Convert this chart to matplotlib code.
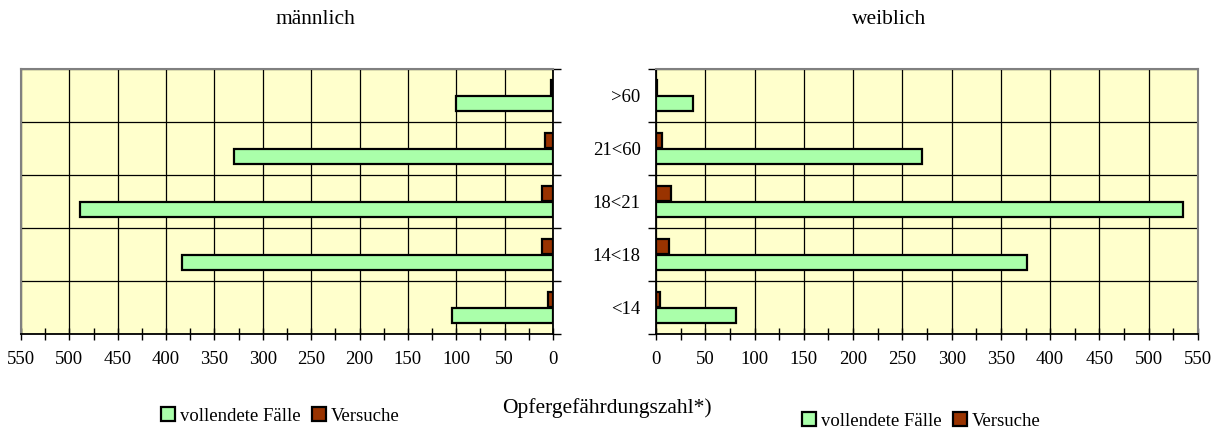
import matplotlib
matplotlib.use("Agg")
import matplotlib.pyplot as plt
from matplotlib.patches import Patch
from matplotlib.ticker import MultipleLocator, FixedLocator, NullFormatter, FixedFormatter

plt.rcParams['font.family'] = ['Liberation Serif', 'DejaVu Serif']

categories = ["<14", "14<18", "18<21", "21<60", ">60"]
male_vollendet = [104, 384, 489, 330, 100]
male_versuche = [5, 11, 11, 8, 2]
female_vollendet = [81, 376, 535, 270, 38]
female_versuche = [4, 13, 15, 6, 1]
xticks = list(range(0, 551, 50))

GREEN = "#AAFFAA"
RED = "#993300"
BG = "#FFFFCC"
GRAY = "#808080"
FS = 13.5
FS_T = 15.5

W, H = 1217, 434
fig = plt.figure(figsize=(W / 100, H / 100), dpi=100)

def px(x0, y0, x1, y1):
    return [x0 / W, 1 - y1 / H, (x1 - x0) / W, (y1 - y0) / H]

axL = fig.add_axes(px(21, 69, 553, 334))
axR = fig.add_axes(px(656, 69, 1198, 334))

ypos = list(range(len(categories)))
bh = 0.29

def draw(ax, voll, vers, side):
    ax.set_facecolor(BG)
    ax.barh([y - bh / 2 for y in ypos], voll, height=bh, color=GREEN,
            edgecolor="black", linewidth=1.6, zorder=3)
    ax.barh([y + bh / 2 + 0.01 for y in ypos], vers, height=bh, color=RED,
            edgecolor="black", linewidth=1.6, zorder=3)
    ax.set_xlim(0, 550)
    ax.set_ylim(-0.5, 4.5)
    ax.xaxis.set_major_locator(FixedLocator(xticks))
    ax.xaxis.set_minor_locator(MultipleLocator(25))
    ax.yaxis.set_major_locator(FixedLocator([-0.5, 0.5, 1.5, 2.5, 3.5, 4.5]))
    ax.yaxis.set_major_formatter(NullFormatter())
    ax.grid(True, which="major", color="black", linewidth=0.9, zorder=0)
    ax.set_axisbelow(True)
    ax.tick_params(axis="x", which="both", direction="inout", length=9,
                   width=1, labelsize=FS, pad=8)
    ax.tick_params(axis="y", which="major", direction="out", length=6, width=1)
    for s in ax.spines.values():
        s.set_color(GRAY)
        s.set_linewidth(1.5)
    ax.spines["bottom"].set_color("black")
    ax.spines["bottom"].set_linewidth(1.3)
    if side == "left":
        ax.invert_xaxis()
        ax.yaxis.tick_right()
        ax.spines["right"].set_color("black")
        ax.spines["right"].set_linewidth(1.3)
    else:
        ax.spines["left"].set_color("black")
        ax.spines["left"].set_linewidth(1.3)
        ax.yaxis.set_minor_locator(FixedLocator(ypos))
        ax.yaxis.set_minor_formatter(FixedFormatter(categories))
        ax.tick_params(axis="y", which="minor", length=0, labelsize=FS, pad=11)

draw(axL, male_vollendet, male_versuche, "left")
draw(axR, female_vollendet, female_versuche, "right")

fig.text(315 / W, 1 - 20 / H, "männlich", ha="center", va="center", fontsize=FS_T)
fig.text(889 / W, 1 - 20 / H, "weiblich", ha="center", va="center", fontsize=FS_T)
fig.text(607 / W, 1 - 408 / H, "Opfergefährdungszahl*)", ha="center", va="center", fontsize=FS_T)

handles = [Patch(facecolor=GREEN, edgecolor="black", linewidth=1.6),
           Patch(facecolor=RED, edgecolor="black", linewidth=1.6)]
labels = ["vollendete Fälle", "Versuche"]
for cx, cy in [(280, 416), (921, 421)]:
    fig.legend(handles, labels, loc="center", bbox_to_anchor=(cx / W, 1 - cy / H),
               ncol=2, frameon=False, fontsize=FS, handlelength=0.75,
               handleheight=0.75, handletextpad=0.25, columnspacing=0.6,
               borderpad=0)

fig.savefig("out.png", dpi=100)
